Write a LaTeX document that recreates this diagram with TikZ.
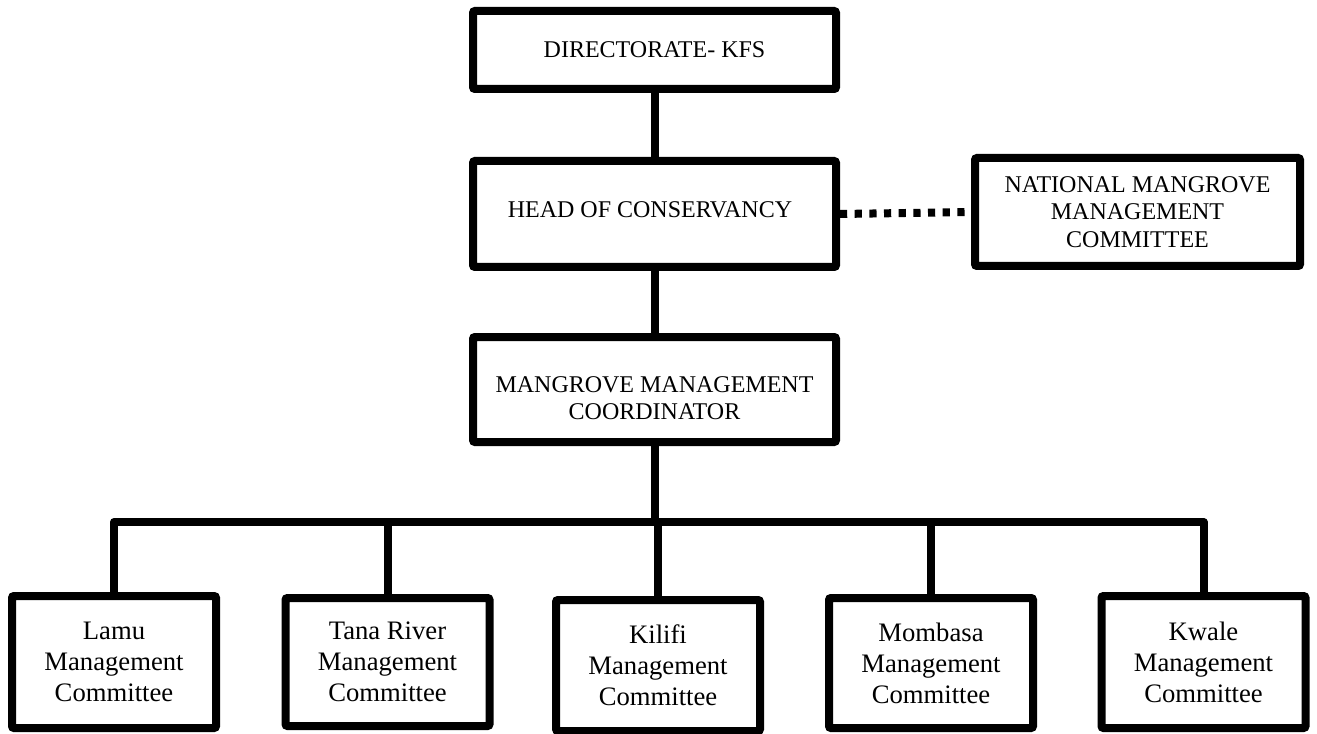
\documentclass[tikz,border=0pt]{standalone}
\usepackage{fontspec}
\setmainfont{Liberation Serif}
\begin{document}
\begin{tikzpicture}[x=0.75pt,y=-0.75pt,
  orgbox/.style={draw=black, line width=6pt, rounded corners=1.5pt, fill=white,
    inner sep=0pt, align=center, font=\fontsize{18}{20.5}\selectfont},
  wide/.style={orgbox, minimum width=272.25pt},
  unit/.style={orgbox, minimum width=153pt, minimum height=97.5pt,
    font=\fontsize{20}{23.25}\selectfont},
  boxtext/.style={inner sep=0pt, align=center, font=\fontsize{18}{20.5}\selectfont},
  link/.style={line width=6pt, line join=round},
  dotlink/.style={line width=6pt, dash pattern=on 5.4pt off 5.6pt}]
\useasboundingbox (0,0) rectangle (1317,734);
\node[wide, minimum height=58.5pt] (top) at (654.5,50) {DIRECTORATE- KFS};
\node[wide, minimum height=79.5pt] (head) at (654.5,214) {};
\node[boxtext] (headtext) at (650,210) {HEAD OF CONSERVANCY};
\node[orgbox, minimum width=243.75pt, minimum height=81pt] (nat) at (1137.5,212)
  {NATIONAL MANGROVE\\MANAGEMENT\\COMMITTEE};
\node[wide, minimum height=78.75pt] (coord) at (654.5,389.5) {};
\node[boxtext] (coordtext) at (654.5,398) {MANGROVE MANAGEMENT\\COORDINATOR};
\node[unit, minimum height=99pt] (lamu) at (114,662) {Lamu\\Management\\Committee};
\node[unit, minimum height=96pt] (tana) at (387.5,662) {Tana River\\Management\\Committee};
\node[unit, minimum height=98.25pt] (kilifi) at (658,665.5) {Kilifi\\Management\\Committee};
\node[unit] (mombasa) at (931,663) {Mombasa\\Management\\Committee};
\node[unit, minimum height=99pt] (kwale) at (1203.5,662) {Kwale\\Management\\Committee};
\coordinate (bus) at (654,522);
\draw[link] (top.south) -- (head.north);
\draw[link] (head.south) -- (coord.north);
\draw[dotlink] (head.east) -- (nat.west);
\draw[link] (coord.south) -- (coord.south |- bus);
\draw[link] (lamu.north) -- (lamu.north |- bus) -- (kwale.north |- bus) -- (kwale.north);
\draw[link] (tana.north) -- (tana.north |- bus);
\draw[link] (kilifi.north) -- (kilifi.north |- bus);
\draw[link] (mombasa.north) -- (mombasa.north |- bus);
\end{tikzpicture}
\end{document}
